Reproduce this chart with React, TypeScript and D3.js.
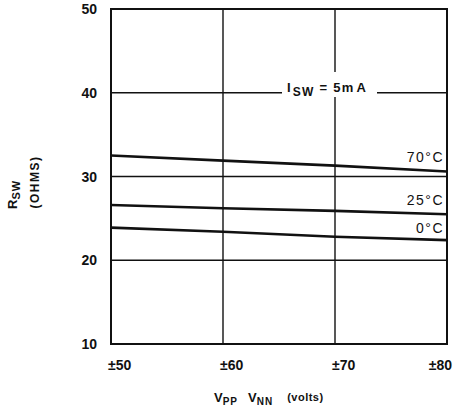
import React from "react";
import * as d3 from "d3";

const voltages = [50, 60, 70, 80];
const xTickLabels = ["±50", "±60", "±70", "±80"];
const yTicks = [10, 20, 30, 40, 50];
const r70 = [32.5, 31.9, 31.3, 30.6];
const r25 = [26.6, 26.2, 25.9, 25.5];
const r0 = [23.9, 23.4, 22.8, 22.4];
const seriesNames = ["70°C", "25°C", "0°C"];

const W = 462;
const H = 419;
const FONT = "'Liberation Sans', Arial, Helvetica, sans-serif";

export default function App() {
  const x = d3.scaleLinear().domain([50, 80]).range([111, 447]);
  const y = d3.scaleLinear().domain([10, 50]).range([344, 9]);
  const series = [r70, r25, r0];
  const line = d3
    .line<number>()
    .x((_, i) => x(voltages[i]))
    .y((d) => y(d));
  const labelY = [y(r70[3]) - 9, y(r25[3]) - 9, y(r0[3]) - 7];

  return (
    <svg
      width={W}
      height={H}
      style={{ position: "absolute", left: 0, top: 0, background: "#fff" }}
      fontFamily={FONT}
    >
      {/* grid */}
      {voltages.slice(1, 3).map((v) => (
        <line key={"gx" + v} x1={x(v)} x2={x(v)} y1={y(50)} y2={y(10)} stroke="#111" strokeWidth={1.4} />
      ))}
      {[20, 30, 40].map((v) => (
        <line key={"gy" + v} x1={x(50)} x2={x(80)} y1={y(v)} y2={y(v)} stroke="#111" strokeWidth={1.4} />
      ))}
      {/* ISW label background */}
      <rect x={282} y={72} width={95} height={25} fill="#fff" />
      <text x={287} y={92} fontSize={13} fontWeight="bold" fill="#111" letterSpacing={1.2}>
        I
        <tspan fontSize={12} dy={4} dx={1}>SW</tspan>
        <tspan dy={-4} dx={5}>=</tspan>
        <tspan dx={5}>5m</tspan>
        <tspan dx={2}>A</tspan>
      </text>
      {/* border */}
      <rect x={x(50)} y={y(50)} width={x(80) - x(50)} height={y(10) - y(50)} fill="none" stroke="#111" strokeWidth={2} />
      {/* curves */}
      {series.map((s, i) => (
        <path key={"s" + i} d={line(s) || ""} fill="none" stroke="#111" strokeWidth={2.6} />
      ))}
      {seriesNames.map((n, i) => (
        <text key={"l" + i} x={444} y={labelY[i]} textAnchor="end" fontSize={14} letterSpacing={1.5} fill="#111">
          {n}
        </text>
      ))}
      {/* y ticks */}
      {yTicks.map((v) => (
        <text key={"yt" + v} x={97} y={y(v) + 5} textAnchor="end" fontSize={14} fontWeight="bold" fill="#111">
          {v}
        </text>
      ))}
      {/* x ticks */}
      {voltages.map((v, i) => (
        <text
          key={"xt" + v}
          x={i === 3 ? x(v) + 5 : x(v) - 3}
          y={370}
          textAnchor={i === 3 ? "end" : "start"}
          fontSize={14}
          fontWeight="bold"
          fill="#111"
        >
          {xTickLabels[i]}
        </text>
      ))}
      {/* x title */}
      <text x={214} y={402} fontSize={13} fontWeight="bold" fill="#111">
        V<tspan fontSize={10} dy={3} letterSpacing={1}>PP</tspan>
        <tspan dy={-3} dx={10}>V</tspan>
        <tspan fontSize={10} dy={3} letterSpacing={1}>NN</tspan>
        <tspan dy={-4} dx={14} fontSize={11} letterSpacing={0.5}>(volts)</tspan>
      </text>
      {/* y title */}
      <text transform="translate(17,209) rotate(-90)" fontSize={13} fontWeight="bold" fill="#111">
        R<tspan fontSize={11} dy={3} letterSpacing={1}>SW</tspan>
      </text>
      <text transform="translate(39,182) rotate(-90)" textAnchor="middle" fontSize={12} fontWeight="bold" letterSpacing={1.5} fill="#111">
        (OHMS)
      </text>
    </svg>
  );
}
